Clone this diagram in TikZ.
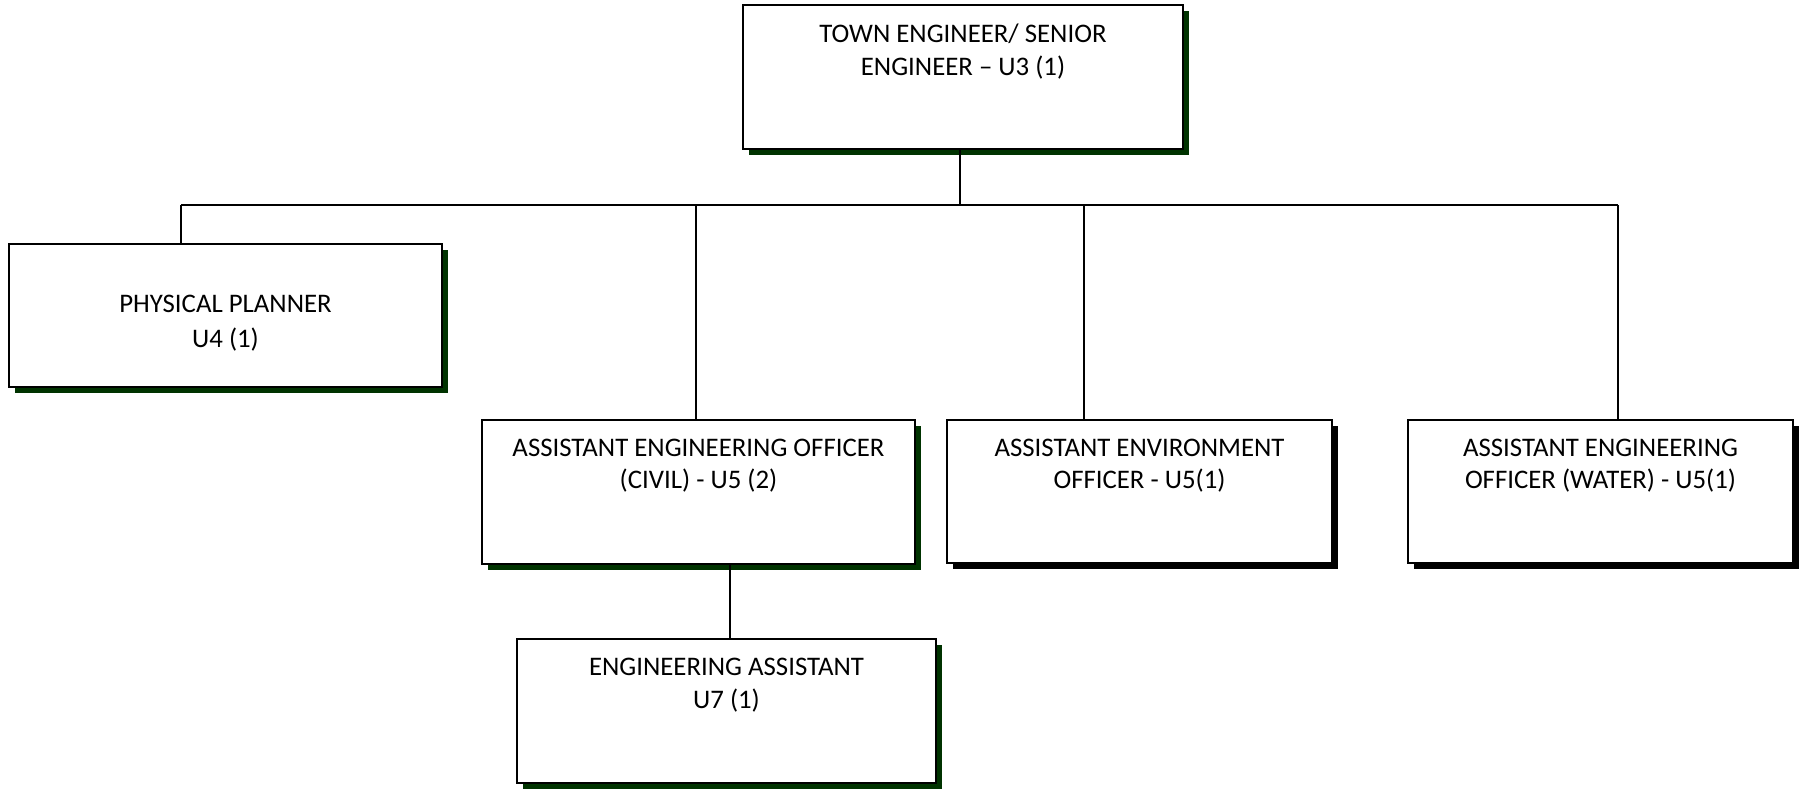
\documentclass[tikz,border=0pt]{standalone}
\usepackage{fontspec}
\setmainfont{Carlito}
\usepackage{tikz}
\usetikzlibrary{positioning,shadows}

\definecolor{shgreen}{RGB}{0,51,0}

\begin{document}
\begin{tikzpicture}[x=0.5pt, y=-0.5pt,
  unit/.style={draw, line width=1pt, fill=white, rectangle, inner sep=0pt},
  gshadow/.style={unit, drop shadow={shadow xshift=3pt, shadow yshift=-3pt, fill=shgreen, opacity=1}},
  kshadow/.style={unit, drop shadow={shadow xshift=3pt, shadow yshift=-3pt, fill=black, opacity=1}},
  unittext/.style={align=center, inner sep=0pt, font=\fontsize{13.4pt}{16.3pt}\selectfont,
    execute at begin node={\rule{0pt}{11pt}}},
  link/.style={line width=0.9pt}]
  \useasboundingbox (0,0) rectangle (1803,788);

  \node[gshadow, minimum width=220pt, minimum height=72pt] (te) at (963,77) {};
  \node[gshadow, minimum width=216.5pt, minimum height=71.5pt] (pp) at (225.5,315.5) {};
  \node[gshadow, minimum width=216.5pt, minimum height=72pt] (aeoc) at (698.5,492) {};
  \node[kshadow, minimum width=192.5pt, minimum height=71.5pt] (aen) at (1139.5,491.5) {};
  \node[kshadow, minimum width=192.5pt, minimum height=71.5pt] (aeow) at (1600.5,491.5) {};
  \node[gshadow, minimum width=209.5pt, minimum height=72pt] (ea) at (726.5,711) {};

  \node[unittext, below=9.8pt of te.north] (te-t) {TOWN ENGINEER/ SENIOR\\ENGINEER -- U3 (1)};
  \node[unittext, below=26pt of pp.north, font=\fontsize{13.4pt}{17.5pt}\selectfont] (pp-t) {PHYSICAL PLANNER\\U4 (1)};
  \node[unittext, below=9.6pt of aeoc.north] (aeoc-t) {ASSISTANT ENGINEERING OFFICER\\(CIVIL) - U5 (2)};
  \node[unittext, below=9.6pt of aen.north] (aen-t) {ASSISTANT ENVIRONMENT\\OFFICER - U5(1)};
  \node[unittext, below=9.6pt of aeow.north] (aeow-t) {ASSISTANT ENGINEERING\\OFFICER (WATER) - U5(1)};
  \node[unittext, below=10pt of ea.north] (ea-t) {ENGINEERING ASSISTANT\\U7 (1)};

  \coordinate (bus) at (960,205);
  \coordinate (j1) at (181,205);
  \coordinate (j2) at (696,205);
  \coordinate (j3) at (1084,205);
  \coordinate (j4) at (1618,205);
  \coordinate (j5) at (730,564);

  \draw[link] (bus |- te.south) -- (bus);
  \draw[link] (j1) -- (j4);
  \draw[link] (j1) -- (j1 |- pp.north);
  \draw[link] (j2) -- (j2 |- aeoc.north);
  \draw[link] (j3) -- (j3 |- aen.north);
  \draw[link] (j4) -- (j4 |- aeow.north);
  \draw[link] (j5) -- (j5 |- ea.north);
\end{tikzpicture}
\end{document}
